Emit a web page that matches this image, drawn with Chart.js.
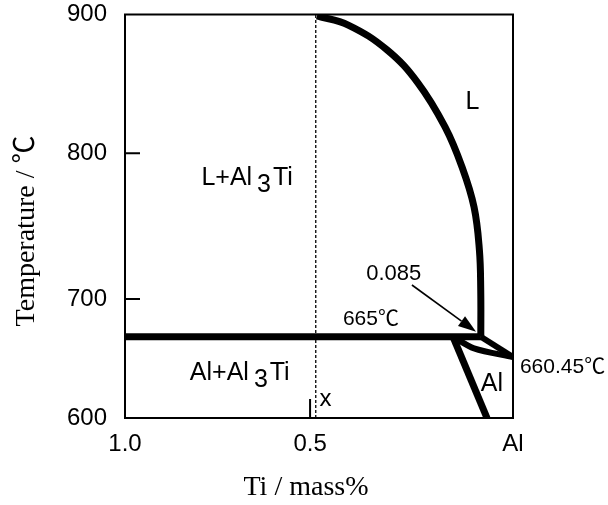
<!DOCTYPE html>
<html>
<head>
<meta charset="utf-8">
<title>Al-Ti phase diagram</title>
<script src="https://cdn.jsdelivr.net/npm/chart.js@4.4.1/dist/chart.umd.min.js"></script>
<style>
  html, body { margin: 0; padding: 0; background: #fff; }
  #wrap { width: 608px; height: 505px; }
</style>
</head>
<body>
<div id="wrap"><canvas id="myChart" width="608" height="505"></canvas></div>
<script>
// Al3Ti liquidus (the big curve), Ti mass% / temperature
const liquidusTi = [0.483, 0.406, 0.310, 0.234, 0.1675, 0.1256, 0.096, 0.0828, 0.0795, 0.0793];
const liquidusTemp = [899, 892.4, 874.4, 850.6, 819, 790.6, 763.1, 733.6, 706, 665];
// peritectic line at 665 C
const peritecticTi = [1.0, 0.0793];
const peritecticTemp = [665, 665];
// Al side : liquidus + solidus going down to 660.45 C
const alLiquidusTi = [0.0793, 0];
const alLiquidusTemp = [665, 660.45];
const solidusTi = [0.148, 0.096, 0];
const solidusTemp = [665, 662.4, 660.45];
// solvus
const solvusTi = [0.148, 0.064];
const solvusTemp = [665, 600];
// alloy x (dashed)
const alloyTi = [0.486, 0.486];
const alloyTemp = [600, 900];

const xTicks = [0, 0.5, 1.0];
const xTickLabels = ['Al', '0.5', '1.0'];
const yTicks = [600, 700, 800, 900];

const serif = '"Liberation Serif", "Times New Roman", "Noto Sans CJK JP", serif';
const sans = '"Liberation Sans", Arial, "Noto Sans CJK JP", sans-serif';

// the figure is schematic, the axes are not evenly spaced
function interp(xs, ys, v) {
    let i = 1;
    while (i < xs.length - 1 && v > xs[i]) i++;
    return ys[i - 1] + (v - xs[i - 1]) * (ys[i] - ys[i - 1]) / (xs[i] - xs[i - 1]);
}

class BrokenScale extends Chart.LinearScale {
    getPixelForValue(value) {
        const b = this.options.breaks;
        return this.getPixelForDecimal(interp(b.values, b.fracs, value));
    }
    getValueForPixel(pixel) {
        const b = this.options.breaks;
        return interp(b.fracs, b.values, this.getDecimalForPixel(pixel));
    }
}
BrokenScale.id = 'broken';
BrokenScale.defaults = Chart.LinearScale.defaults;
Chart.register(BrokenScale);

function zip(xs, ys) {
    return xs.map((x, i) => ({x: x, y: ys[i]}));
}

function line(xs, ys, width, extra) {
    return Object.assign({
        data: zip(xs, ys),
        showLine: true,
        borderColor: '#000',
        borderWidth: width,
        pointRadius: 0,
        borderCapStyle: 'butt',
        borderJoinStyle: 'round',
        clip: 0
    }, extra || {});
}

// texts inside the plot, placed in data units
const notes = [
    {parts: [['L']], ti: 0.10, temp: 832, size: 25},
    {parts: [['L+Al'], ['3', true], ['Ti']], ti: 0.67, temp: 778, size: 25},
    {parts: [['Al+Al'], ['3', true], ['Ti']], ti: 0.69, temp: 637.5, size: 25},
    {parts: [['665℃']], ti: 0.35, temp: 676, size: 21},
    {parts: [['0.085']], ti: 0.294, temp: 713, size: 22},
    {parts: [['660.45℃']], ti: -0.017, temp: 644.6, size: 21, left: true},
    {parts: [['Al']], ti: 0.052, temp: 626.8, size: 25},
    {parts: [['x']], ti: 0.462, temp: 612, size: 24}
];
const arrowFrom = {ti: 0.249, temp: 709.6};
const arrowTo = {ti: 0.091, temp: 669.6};

function drawNote(ctx, note, x, y) {
    ctx.font = note.size + 'px ' + sans;
    let widths = note.parts.map(p => ctx.measureText(p[0]).width + (p[1] ? 7 : 0));
    let total = widths.reduce((a, b) => a + b, 0);
    let cx = note.left ? x : x - total / 2;
    note.parts.forEach((p, i) => {
        let dx = p[1] ? 5 : 0;
        let dy = p[1] ? 7 : 0;
        ctx.fillText(p[0], cx + dx, y + dy);
        cx += widths[i];
    });
}

const decorations = {
    id: 'decorations',
    beforeDatasetsDraw(chart) {
        const ctx = chart.ctx;
        const area = chart.chartArea;
        const xs = chart.scales.x;
        const ys = chart.scales.y;
        ctx.save();
        ctx.strokeStyle = '#000';
        ctx.lineWidth = 2;
        ctx.strokeRect(area.left, area.top, area.right - area.left, area.bottom - area.top);
        // inward ticks
        ctx.beginPath();
        [700, 800].forEach(v => {
            let py = ys.getPixelForValue(v);
            ctx.moveTo(area.left, py);
            ctx.lineTo(area.left + 15, py);
        });
        let px = xs.getPixelForValue(0.5);
        ctx.moveTo(px, area.bottom);
        ctx.lineTo(px, area.bottom - 19);
        ctx.stroke();
        ctx.restore();
    },
    afterDatasetsDraw(chart) {
        const ctx = chart.ctx;
        const xs = chart.scales.x;
        const ys = chart.scales.y;
        ctx.save();
        ctx.fillStyle = '#000';
        ctx.textBaseline = 'alphabetic';
        ctx.textAlign = 'left';
        notes.forEach(n => drawNote(ctx, n, xs.getPixelForValue(n.ti), ys.getPixelForValue(n.temp)));

        // arrow to the 0.085 point
        let x0 = xs.getPixelForValue(arrowFrom.ti), y0 = ys.getPixelForValue(arrowFrom.temp);
        let x1 = xs.getPixelForValue(arrowTo.ti), y1 = ys.getPixelForValue(arrowTo.temp);
        let ang = Math.atan2(y1 - y0, x1 - x0);
        let hl = 18, hw = 6;
        let bx = x1 - hl * Math.cos(ang), by = y1 - hl * Math.sin(ang);
        ctx.strokeStyle = '#000';
        ctx.lineWidth = 1.6;
        ctx.beginPath();
        ctx.moveTo(x0, y0);
        ctx.lineTo(bx, by);
        ctx.stroke();
        ctx.beginPath();
        ctx.moveTo(x1, y1);
        ctx.lineTo(bx + hw * Math.sin(ang), by - hw * Math.cos(ang));
        ctx.lineTo(bx - hw * Math.sin(ang), by + hw * Math.cos(ang));
        ctx.closePath();
        ctx.fill();

        // axis titles
        ctx.font = '28px ' + serif;
        ctx.textAlign = 'center';
        ctx.textBaseline = 'middle';
        ctx.fillText('Ti / mass%', 306, 488);
        ctx.translate(27, 231);
        ctx.rotate(-Math.PI / 2);
        ctx.fillText('Temperature / ℃', 0, 0);
        ctx.restore();
    }
};

Chart.defaults.font.family = sans;
Chart.defaults.color = '#000';

new Chart('myChart', {
    type: 'scatter',
    data: {
        datasets: [
            line(alloyTi, alloyTemp, 1.3, {borderDash: [3, 2]}),
            line(peritecticTi, peritecticTemp, 7),
            line(liquidusTi, liquidusTemp, 7, {tension: 0.4}),
            line(alLiquidusTi, alLiquidusTemp, 6),
            line(solidusTi, solidusTemp, 6, {tension: 0.3}),
            line(solvusTi, solvusTemp, 7)
        ]
    },
    options: {
        responsive: false,
        animation: false,
        events: [],
        layout: {padding: {left: 0, top: 14.5, right: 95, bottom: 0}},
        plugins: {legend: {display: false}, tooltip: {enabled: false}},
        scales: {
            x: {
                type: 'broken',
                min: 0,
                max: 1.0,
                reverse: true,
                breaks: {values: [0, 0.5, 1.0], fracs: [0, 0.523, 1]},
                grid: {display: false, drawTicks: false},
                border: {display: false},
                afterBuildTicks: (scale) => { scale.ticks = xTicks.map(v => ({value: v})); },
                afterFit: (scale) => {
                    scale.height = 87;
                    scale.paddingLeft = 0;
                    scale.paddingRight = 0;
                },
                ticks: {
                    autoSkip: false,
                    maxRotation: 0,
                    padding: 12,
                    font: {size: 24},
                    callback: (value) => xTickLabels[xTicks.indexOf(value)]
                }
            },
            y: {
                type: 'broken',
                min: 600,
                max: 900,
                breaks: {values: [600, 660.45, 665, 700, 800, 900], fracs: [0, 0.151, 0.2015, 0.295, 0.656, 1]},
                grid: {display: false, drawTicks: false},
                border: {display: false},
                afterBuildTicks: (scale) => { scale.ticks = yTicks.map(v => ({value: v})); },
                afterFit: (scale) => {
                    scale.width = 125;
                    scale.paddingTop = 0;
                    scale.paddingBottom = 0;
                },
                ticks: {
                    autoSkip: false,
                    padding: 18,
                    font: {size: 24},
                    callback: (value) => String(value)
                }
            }
        }
    },
    plugins: [decorations]
});
</script>
</body>
</html>
